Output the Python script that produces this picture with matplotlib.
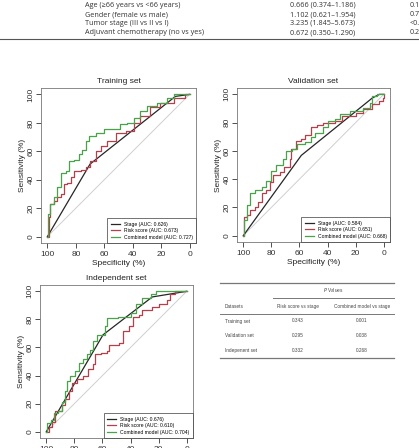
import matplotlib
matplotlib.use("Agg")
import matplotlib.pyplot as plt
from matplotlib.lines import Line2D

W, H = 419, 448

# ---- data ----
cov_rows = ["Age (\u226566 years vs <66 years)", "Gender (female vs male)",
            "Tumor stage (III vs II vs I)", "Adjuvant chemotherapy (no vs yes)"]
cov_hr = ["0.666 (0.374\u20131.186)", "1.102 (0.621\u20131.954)",
          "3.235 (1.845\u20135.673)", "0.672 (0.350\u20131.290)"]
cov_p = ["0.168", "0.749", "<0.001", "0.225"]

# training set (specificity %, sensitivity %)
tr_stage_x = [100, 70, 10, 0]
tr_stage_y = [0, 51, 98.6, 100]
tr_risk_x = [100, 99, 98, 95.5, 93, 90.6, 88, 86, 83.6, 81, 76.6, 73, 70, 66, 62.6,
             58, 52, 45, 39, 34.6, 27.6, 20.6, 11, 5, 3, 0]
tr_risk_y = [0, 13.5, 23, 25, 27.5, 30, 37, 38, 41.6, 46, 47, 48.6, 53, 60, 64,
             67, 73, 74, 80, 85, 91, 94, 97.6, 97.6, 100, 100]
tr_comb_x = [100, 99.3, 98, 95.5, 93, 90.6, 87, 85, 81, 78, 75.5, 73, 71, 66, 60,
             53, 48.6, 44, 39, 34.6, 30, 23, 16, 11, 0]
tr_comb_y = [0, 16, 23, 27.5, 34.6, 45, 46, 53, 54, 58, 61, 67, 71, 73, 75.5,
             75.5, 79, 80, 83.6, 88, 92, 94, 97.6, 100, 100]

# validation set
va_stage_x = [100, 58.7, 8, 3, 0]
va_stage_y = [0, 56.8, 97.5, 100, 100]
va_risk_x = [100, 99.5, 97.7, 95, 92, 89.5, 87, 83.7, 81, 79, 74, 71, 67, 66, 62.7,
             59, 55.7, 52, 47.5, 43, 34.7, 30, 19.6, 15, 8, 3, 0.5, 0]
va_risk_y = [0, 13.5, 14.7, 18, 20.5, 24, 30, 32, 38, 43, 45, 48.6, 54, 61, 67,
             68.5, 71, 76.6, 78, 80, 81, 85, 87, 89.5, 93, 95, 97.6, 100]
va_comb_x = [100, 99.5, 97.7, 95, 92, 87, 83.7, 80, 76.7, 72, 69.7, 65, 61.5, 55.7,
             52, 48.7, 43, 39.4, 34.7, 31, 24, 15, 10, 8, 4.5, 0]
va_comb_y = [0, 11, 21.7, 30, 32, 34.6, 39, 46, 50, 54, 60, 61, 65, 66,
             69.6, 73, 76.6, 81, 82.5, 86, 88, 90.6, 94, 98.8, 100, 100]

# independent set
in_stage_x = [100, 59.6, 24.5, 0]
in_stage_y = [0, 69, 96, 100]
in_risk_x = [100, 98, 95.8, 93.5, 90, 88.8, 86.4, 84, 81.8, 78, 73.6, 70, 66.6,
             65.4, 60.7, 57, 55, 48, 45.6, 41, 38.6, 34, 31.5, 24.5, 20, 14,
             11.7, 8, 0]
in_risk_y = [0, 3.5, 7, 15, 15, 18.7, 23.4, 29, 35, 37.5, 40, 44.5, 48,
             55, 56, 57.4, 62, 63, 71.4, 75, 82, 83, 86.7, 89, 91.3, 93.7,
             98.4, 100, 100]
in_comb_x = [100, 99.3, 97, 94.6, 92, 88.8, 86.4, 85, 83, 79.4, 77, 73.6, 71, 69,
             66.6, 64, 58.4, 57, 49, 43, 39.7, 36, 31.5, 25.7, 22, 0]
in_comb_y = [0, 5.9, 8.2, 13, 15, 21, 29, 36, 40, 43, 49, 51.5, 55, 58.5,
             64.4, 69, 75, 80.8, 82, 82, 84.3, 91.3, 95, 98.4, 100, 100]

auc = {"Training set": (0.626, 0.673, 0.727),
       "Validation set": (0.584, 0.651, 0.668),
       "Independent set": (0.676, 0.610, 0.704)}

pv_sets = ["Training set", "Validation set", "Indepenent set"]
pv_risk = ["0.343", "0.295", "0.332"]
pv_comb = ["0.001", "0.038", "0.268"]

C_STAGE = "#262626"
C_RISK = "#b5404c"
C_COMB = "#4aa34a"

plt.rcParams["font.family"] = ["Liberation Sans", "DejaVu Sans"]

fig = plt.figure(figsize=(W / 100, H / 100), dpi=100)


def px(x, y):
    return x / W, 1 - y / H


def roc_panel(rect, title, stage, risk, comb, aucs):
    l, t, r, b = rect
    ax = fig.add_axes([l / W, 1 - b / H, (r - l) / W, (b - t) / H])
    ax.plot([100, 0], [0, 100], color="#cfcfcf", lw=0.7)
    ax.plot(*stage, color=C_STAGE, lw=0.9, label="Stage (AUC: %.3f)" % aucs[0])
    ax.plot(*risk, color=C_RISK, lw=0.9, drawstyle="steps-post",
            label="Risk score (AUC: %.3f)" % aucs[1])
    ax.plot(*comb, color=C_COMB, lw=0.9, drawstyle="steps-post",
            label="Combined model (AUC: %.3f)" % aucs[2])
    ax.set_xlim(104.5, -4.5)
    ax.set_ylim(-4.5, 104.5)
    ax.set_xticks([100, 80, 60, 40, 20, 0])
    ax.set_yticks([0, 20, 40, 60, 80, 100])
    ax.tick_params(labelsize=6, length=3.5, width=0.6, colors="#333333")
    ax.tick_params(axis="x", pad=2)
    ax.tick_params(axis="y", pad=1)
    for lab in ax.get_yticklabels():
        lab.set_rotation(90)
        lab.set_va("center")
    for s in ax.spines.values():
        s.set_color("#777777")
        s.set_linewidth(0.6)
    ax.set_title(title, fontsize=6, pad=3.5, color="#222222")
    ax.set_xlabel("Specificity (%)", fontsize=6, labelpad=2, color="#222222")
    ax.set_ylabel("Sensitivity (%)", fontsize=6, labelpad=1, color="#222222")
    leg = ax.legend(loc="lower right", fontsize=3.6, borderaxespad=0,
                    fancybox=False, handlelength=1.8, handletextpad=0.8,
                    borderpad=0.7, labelspacing=0.3)
    leg.get_frame().set_edgecolor("#333333")
    leg.get_frame().set_linewidth(0.6)
    return ax


roc_panel((41, 88, 196, 243), "Training set", (tr_stage_x, tr_stage_y),
          (tr_risk_x, tr_risk_y), (tr_comb_x, tr_comb_y), auc["Training set"])
roc_panel((237, 88, 390, 242), "Validation set", (va_stage_x, va_stage_y),
          (va_risk_x, va_risk_y), (va_comb_x, va_comb_y), auc["Validation set"])
roc_panel((40, 285, 193, 438), "Independent set", (in_stage_x, in_stage_y),
          (in_risk_x, in_risk_y), (in_comb_x, in_comb_y), auc["Independent set"])

# ---- top table fragment ----
tfont = ["Open Sans", "DejaVu Sans"]
for i, (name, hr, p) in enumerate(zip(cov_rows, cov_hr, cov_p)):
    y = 5.5 + 9 * i
    fig.text(*px(85, y), name, fontsize=5.2, va="center", ha="left", family=tfont, color="#333333")
    fig.text(*px(290, y), hr, fontsize=5.2, va="center", ha="left", family=tfont, color="#333333")
    fig.text(*px(410, y), p, fontsize=5.2, va="center", ha="left", family=tfont, color="#333333")
fig.add_artist(Line2D([0, 1], [1 - 39 / H] * 2, color="#555555", lw=0.8))

# ---- p-value table ----
sfont = ["Liberation Sans", "DejaVu Sans"]
fs = 3.4
col = "#444444"
for y0, x0, x1, lw in [(283, 220, 394, 0.9), (298, 273, 394, 0.7),
                       (314, 220, 394, 0.7), (358, 220, 394, 0.9)]:
    fig.add_artist(Line2D([x0 / W, x1 / W], [1 - y0 / H] * 2, color="#777777", lw=lw))
fig.text(*px(333, 290), "$\\it{P}$ Values", fontsize=fs, ha="center", va="center", family=sfont, color=col)
fig.text(*px(225, 306), "Datasets", fontsize=fs, ha="left", va="center", family=sfont, color=col)
fig.text(*px(298, 306), "Risk score vs stage", fontsize=fs, ha="center", va="center", family=sfont, color=col)
fig.text(*px(362, 306), "Combined model vs stage", fontsize=fs, ha="center", va="center", family=sfont, color=col)
for i, (nm, a, b) in enumerate(zip(pv_sets, pv_risk, pv_comb)):
    y = 321 + 14.5 * i
    fig.text(*px(225, y), nm, fontsize=fs, ha="left", va="center", family=sfont, color=col)
    fig.text(*px(298, y), a, fontsize=fs, ha="center", va="center", family=sfont, color=col)
    fig.text(*px(362, y), b, fontsize=fs, ha="center", va="center", family=sfont, color=col)

fig.savefig("out.png", dpi=100)
